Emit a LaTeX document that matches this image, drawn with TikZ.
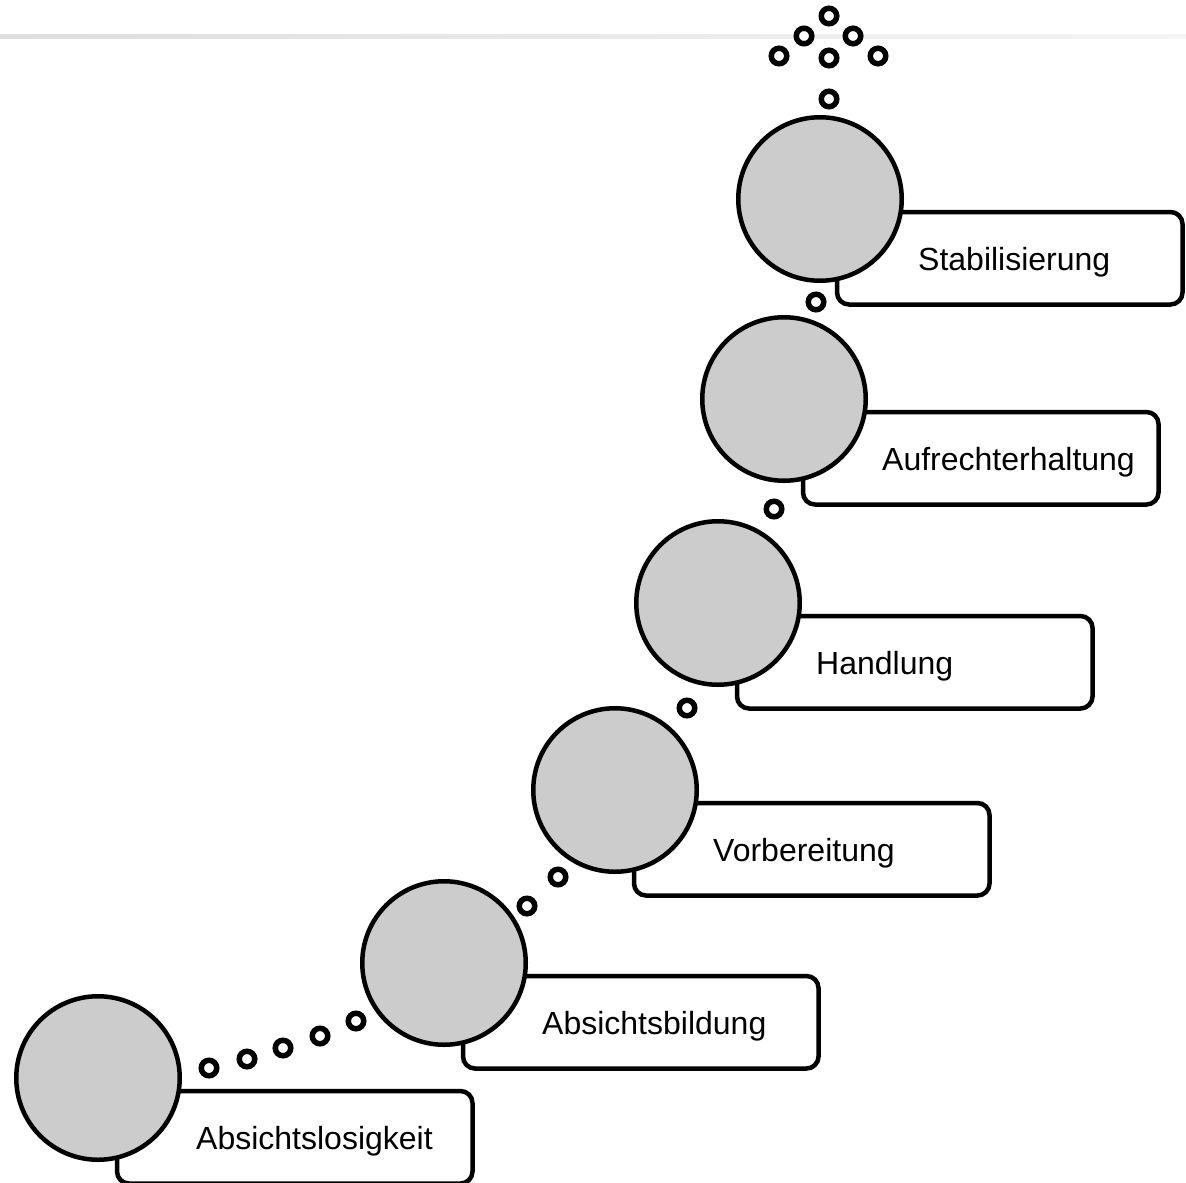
\documentclass[tikz,border=0pt]{standalone}
\usepackage{fontspec}
\setmainfont{Liberation Sans}
\usetikzlibrary{positioning, backgrounds}
\definecolor{stageGrey}{RGB}{204, 204, 204}

\begin{document}
\begin{tikzpicture}[
    x=1pt, y=-1pt,
    stage/.style={
        circle,
        draw,
        line width=4.5pt,
        fill=stageGrey,
        minimum size=163.5pt,
        inner sep=0pt
    },
    stagebox/.style={
        rectangle,
        rounded corners=12pt,
        draw,
        line width=4.5pt,
        fill=white,
        minimum width=355.5pt,
        minimum height=92.5pt,
        inner sep=0pt,
        outer sep=0pt
    },
    stagelabel/.style={
        font=\fontsize{32}{38}\selectfont,
        inner sep=0pt
    },
    dot/.style={
        circle,
        draw,
        line width=5.5pt,
        fill=white,
        minimum size=15.5pt,
        inner sep=0pt
    }
]
    \useasboundingbox (0,0) rectangle (1186,1183);
    \shade[left color=black!13, right color=black!4] (0,34) rectangle (1186,38);

    % stages
    \node[stage] (absl) at (98,1078) {};
    \node[stage] (absb) at (444,963) {};
    \node[stage] (vorb) at (615,790) {};
    \node[stage] (handl) at (718,603) {};
    \node[stage] (aufr) at (784,399) {};
    \node[stage] (stab) at (820,199) {};

    \begin{scope}[on background layer]
        \node[stagebox, below right=13pt and 19pt of absl.center] (abslbox) {};
        \node[stagebox, below right=13pt and 19pt of absb.center] (absbbox) {};
        \node[stagebox, below right=13pt and 19pt of vorb.center] (vorbbox) {};
        \node[stagebox, below right=13pt and 19pt of handl.center] (handlbox) {};
        \node[stagebox, below right=13pt and 19pt of aufr.center] (aufrbox) {};
        \node[stagebox, below right=13pt and 17pt of stab.center, minimum width=345.5pt] (stabbox) {};
    \end{scope}

    \node[stagelabel, right=79pt of abslbox.west, anchor=base west, yshift=-12pt] (absltext) {Absichtslosigkeit};
    \node[stagelabel, right=79pt of absbbox.west, anchor=base west, yshift=-12pt] (absbtext) {Absichtsbildung};
    \node[stagelabel, right=79pt of vorbbox.west, anchor=base west, yshift=-12pt] (vorbtext) {Vorbereitung};
    \node[stagelabel, right=79pt of handlbox.west, anchor=base west, yshift=-12pt] (handltext) {Handlung};
    \node[stagelabel, right=79pt of aufrbox.west, anchor=base west, yshift=-12pt] (aufrtext) {Aufrechterhaltung};
    \node[stagelabel, right=81pt of stabbox.west, anchor=base west, yshift=-12pt] (stabtext) {Stabilisierung};

    % small dots between the stages
    \foreach \p [count=\i] in {(209,1068), (247,1059), (283,1048), (320,1036), (356,1021),
                               (527,906), (558,877), (687,708), (774,509), (816,302),
                               (829,99), (829,58), (779,56), (804,36), (829,16), (853,36), (878,56)}
        \node[dot] (dot\i) at \p {};

\end{tikzpicture}
\end{document}
